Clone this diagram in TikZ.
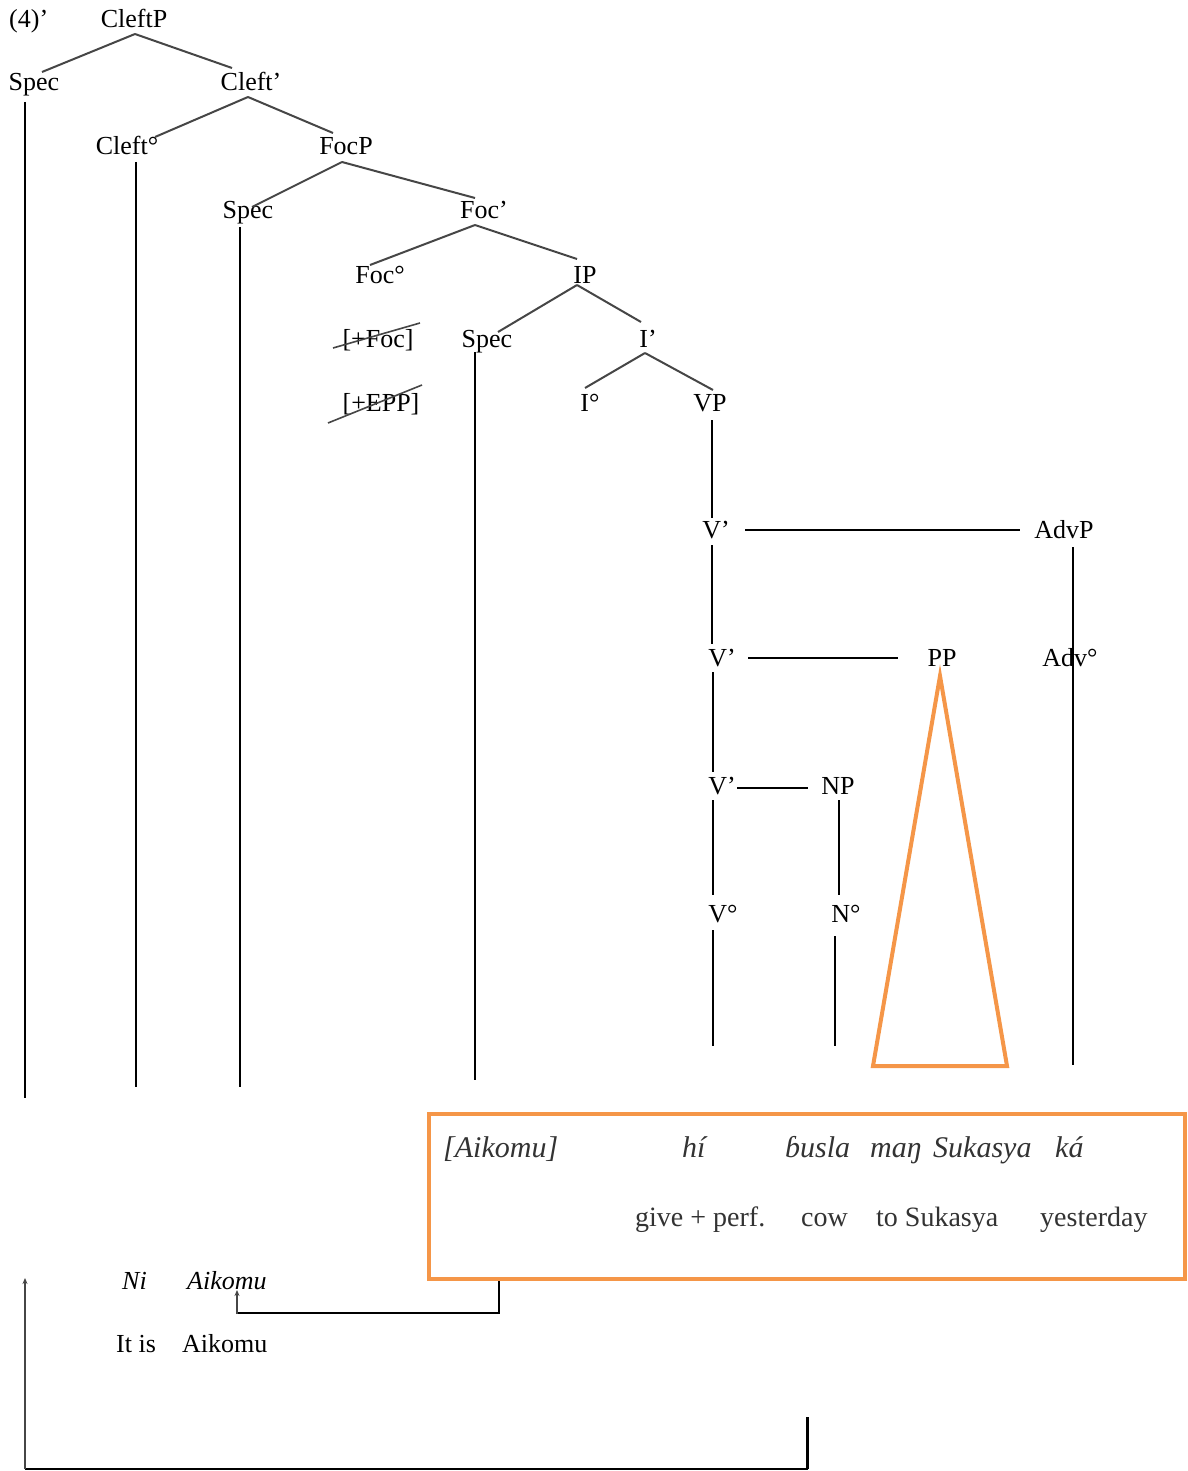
\documentclass[tikz,border=0pt]{standalone}
\usepackage{fontspec}
\setmainfont{Liberation Serif}
\usetikzlibrary{calc,arrows.meta}
\definecolor{boxorange}{RGB}{245,150,72}
\definecolor{branchgray}{RGB}{70,70,70}
\tikzset{
  lab/.style={anchor=base,inner sep=0pt,font=\fontsize{26}{30}\selectfont},
  word/.style={anchor=base west,inner sep=0pt,font=\fontsize{26}{30}\selectfont},
  gword/.style={anchor=base west,inner sep=0pt,font=\fontsize{28}{32}\selectfont,text=black!80},
  iword/.style={anchor=base west,inner sep=0pt,font=\fontsize{30}{34}\selectfont\itshape,text=black!80},
  branch/.style={draw=branchgray,line width=2pt},
  stem/.style={draw=black,line width=2.8pt},
  strike/.style={draw=branchgray,line width=1.6pt},
  orange/.style={draw=boxorange,line width=4pt},
}
\begin{document}
\begin{tikzpicture}[x=1pt,y=-1pt]
\useasboundingbox (0,0) rectangle (1187,1471);

% example number
\node[word] (ex) at (9,28) {(4)’};

% tree labels (positioned by baseline)
\node[lab] (CleftP) at (134,28) {CleftP};
\node[lab] (SpecA)  at (34,91)  {Spec};
\node[lab] (CleftB) at (251,91) {Cleft’};
\node[lab] (CleftH) at (127,155) {Cleft°};
\node[lab] (FocP)   at (346,155) {FocP};
\node[lab] (SpecB)  at (248,219) {Spec};
\node[lab] (FocB)   at (484,219) {Foc’};
\node[lab] (FocH)   at (380,283) {Foc°};
\node[lab] (IP)     at (585,283) {IP};
\node[lab] (FFoc)   at (378,347) {[+Foc]};
\node[lab] (SpecC)  at (487,347) {Spec};
\node[lab] (IB)     at (648,347) {I’};
\node[lab] (FEPP)   at (381,411) {[+EPP]};
\node[lab] (IH)     at (590,411) {I°};
\node[lab] (VP)     at (710,411) {VP};
\node[lab] (VBa)    at (716,538) {V’};
\node[lab] (AdvP)   at (1064,538) {AdvP};
\node[lab] (VBb)    at (722,666) {V’};
\node[lab] (PP)     at (942,666) {PP};
\node[lab] (AdvH)   at (1070,666) {Adv°};
\node[lab] (VBc)    at (722,794) {V’};
\node[lab] (NP)     at (838,794) {NP};
\node[lab] (VH)     at (723,922) {V°};
\node[lab] (NH)     at (846,922) {N°};

% binary branches
\draw[branch] ($(CleftP.base)+(1,6)$) -- ($(SpecA.base)+(8,-19)$);
\draw[branch] ($(CleftP.base)+(1,6)$) -- ($(CleftB.base)+(-19,-23)$);
\draw[branch] ($(CleftB.base)+(-3,6)$) -- ($(CleftH.base)+(28,-18)$);
\draw[branch] ($(CleftB.base)+(-3,6)$) -- ($(FocP.base)+(-13,-22)$);
\draw[branch] ($(FocP.base)+(-4,7)$) -- ($(SpecB.base)+(4,-12)$);
\draw[branch] ($(FocP.base)+(-4,7)$) -- ($(FocB.base)+(-9,-21)$);
\draw[branch] ($(FocB.base)+(-9,6)$) -- ($(FocH.base)+(-10,-18)$);
\draw[branch] ($(FocB.base)+(-9,6)$) -- ($(IP.base)+(-8,-24)$);
\draw[branch] ($(IP.base)+(-8,2)$) -- ($(SpecC.base)+(11,-15)$);
\draw[branch] ($(IP.base)+(-8,2)$) -- ($(IB.base)+(-7,-25)$);
\draw[branch] ($(IB.base)+(-3,6)$) -- ($(IH.base)+(-5,-23)$);
\draw[branch] ($(IB.base)+(-3,6)$) -- ($(VP.base)+(3,-21)$);

% checked features
\draw[strike] ($(FFoc.base)+(-45,1)$) -- ($(FFoc.base)+(42,-24)$);
\draw[strike] ($(FEPP.base)+(-53,12)$) -- ($(FEPP.base)+(41,-26)$);

% long stems of the specifiers and heads
\draw[stem] ($(SpecA.base)+(-9,11)$) -- ++(0,996);
\draw[stem] ($(CleftH.base)+(9,7)$) -- ++(0,925);
\draw[stem] ($(SpecB.base)+(-8,8)$) -- ++(0,860);
\draw[stem] ($(SpecC.base)+(-12,5)$) -- ++(0,728);

% VP spine
\draw[stem] ($(VP.base)+(2,9)$) -- ($(VBa.base)+(-4,-20)$);
\draw[stem] ($(VBa.base)+(-4,7)$) -- ($(VBb.base)+(-10,-22)$);
\draw[stem] ($(VBb.base)+(-9,6)$) -- ($(VBc.base)+(-9,-22)$);
\draw[stem] ($(VBc.base)+(-9,6)$) -- ($(VH.base)+(-10,-27)$);
\draw[stem] ($(VH.base)+(-10,8)$) -- ++(0,116);

% adjuncts and complements
\draw[stem] ($(VBa.base)+(29,-8)$) -- ($(AdvP.base)+(-44,-8)$);
\draw[stem] ($(AdvP.base)+(9,9)$) -- ++(0,518);
\draw[stem] ($(VBb.base)+(26,-8)$) -- ($(PP.base)+(-44,-8)$);
\draw[stem] ($(VBc.base)+(15,-6)$) -- ($(NP.base)+(-30,-6)$);
\draw[stem] ($(NP.base)+(1,6)$) -- ($(NH.base)+(-7,-27)$);
\draw[stem] ($(NH.base)+(-11,14)$) -- ++(0,110);

% PP triangle
\draw[orange,line join=miter] ($(PP.base)+(-2,10)$) -- ++(-67,390) -- ++(134,0) -- cycle;

% gloss box
\node[orange,fill=white,minimum width=756pt,minimum height=165pt,inner sep=0pt,anchor=north west] (gloss) at (427,1112) {};
\node[iword] (w1) at (443,1157) {[Aikomu]};
\node[iword] (w2) at (682,1157) {hí};
\node[iword] (w3) at (785,1157) {ɓusla};
\node[iword] (w4) at (870,1157) {maŋ};
\node[iword] (w5) at (933,1157) {Sukasya};
\node[iword] (w6) at (1055,1157) {ká};
\node[gword] (g1) at (635,1226) {give + perf.};
\node[gword] (g2) at (801,1226) {cow};
\node[gword] (g3) at (876,1226) {to Sukasya};
\node[gword] (g4) at (1040,1226) {yesterday};

% cleft clause
\node[word,font=\fontsize{26}{30}\selectfont\itshape] (Ni) at (122,1289) {Ni};
\node[word,font=\fontsize{26}{30}\selectfont\itshape] (Aik) at (187,1289) {Aikomu};
\node[word] (ItIs) at (116,1352) {It is};
\node[word] (AikG) at (182,1352) {Aikomu};

% movement links
\coordinate (focLanding) at ($(Aik.base west)+(50,1)$);
\draw[line width=2.8pt] ($(gloss.south west)+(72,0)$) |- ($(focLanding)+(0,23)$);
\draw[draw=branchgray,line width=2pt,-{Stealth[length=6pt,width=5pt]}] ($(focLanding)+(0,24)$) -- (focLanding);
\coordinate (expStart) at (807,1417);
\coordinate (expTop) at ($(ex.base west)+(16,1250)$);
\draw[line width=3pt] (expStart) -- (807,1469);
\draw[line width=1.6pt] (808,1469) -- (25,1469);
\draw[draw=branchgray,line width=2pt,-{Stealth[length=6pt,width=5pt]}] (25,1469) -- (expTop);
\end{tikzpicture}
\end{document}
